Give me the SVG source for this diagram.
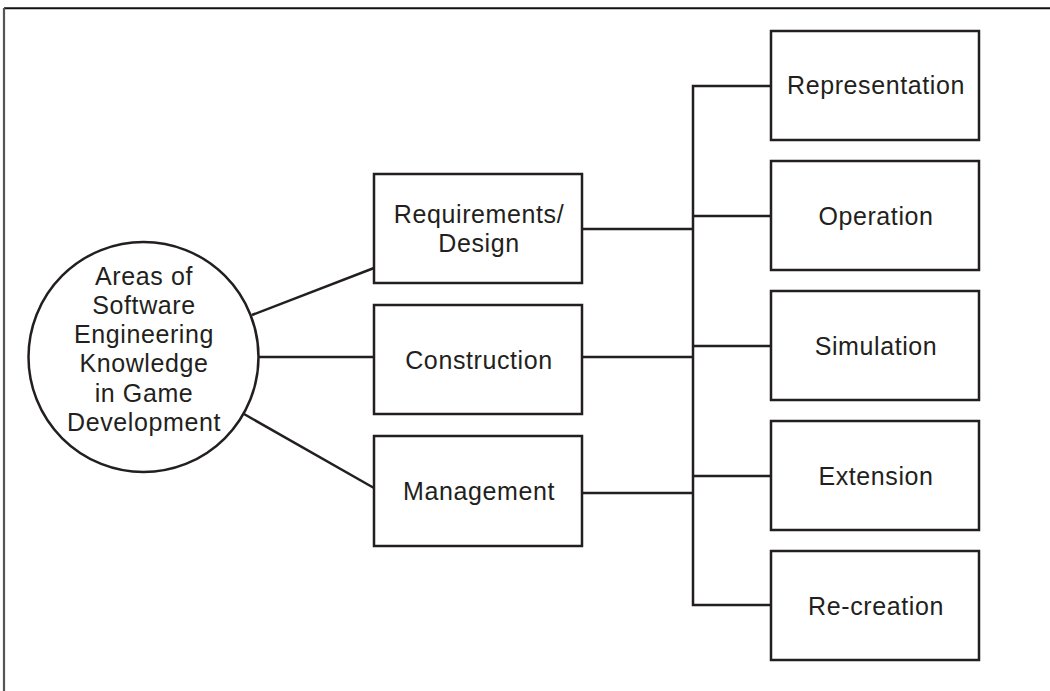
<svg xmlns="http://www.w3.org/2000/svg" width="1050" height="691" viewBox="0 0 1050 691">
<style>
.box{fill:#fff;stroke:#231f20;stroke-width:2.5}
.ln{fill:none;stroke:#231f20;stroke-width:2.5}
.t{font-family:"Liberation Sans",Arial,sans-serif;font-size:25px;fill:#231f20;text-anchor:middle;letter-spacing:0.6px}
</style>
<rect width="1050" height="691" fill="#fff"/>
<g id="frame">
<line x1="4" y1="8.3" x2="1050" y2="8.3" stroke="#111" stroke-width="2"/>
<line x1="4" y1="8" x2="4" y2="691" stroke="#555" stroke-width="2.2"/>
</g>
<g id="connectors" class="ln">
<line x1="252" y1="315" x2="374" y2="268"/>
<line x1="259" y1="357" x2="374" y2="357"/>
<line x1="244" y1="414" x2="374" y2="488"/>
<line x1="582" y1="229" x2="693" y2="229"/>
<line x1="582" y1="357" x2="693" y2="357"/>
<line x1="582" y1="493" x2="693" y2="493"/>
<polyline points="771,86 693,86 693,605 771,605"/>
<line x1="693" y1="216" x2="771" y2="216"/>
<line x1="693" y1="346" x2="771" y2="346"/>
<line x1="693" y1="476" x2="771" y2="476"/>
</g>
<g id="root">
<circle cx="143.5" cy="357" r="115" class="box"/>
<text class="t"><tspan x="144" y="285">Areas of</tspan><tspan x="144" y="314">Software</tspan><tspan x="144" y="343">Engineering</tspan><tspan x="144" y="372">Knowledge</tspan><tspan x="144" y="402">in Game</tspan><tspan x="144" y="431">Development</tspan></text>
</g>
<g id="requirements">
<rect x="374" y="174" width="208" height="109" class="box"/>
<text class="t"><tspan x="479" y="223">Requirements/</tspan><tspan x="479" y="252">Design</tspan></text>
</g>
<g id="construction">
<rect x="374" y="305" width="208" height="109" class="box"/>
<text class="t" x="479" y="369">Construction</text>
</g>
<g id="management">
<rect x="374" y="436" width="208" height="110" class="box"/>
<text class="t" x="479" y="500">Management</text>
</g>
<g id="representation">
<rect x="771" y="31" width="208" height="109" class="box"/>
<text class="t" x="876" y="94">Representation</text>
</g>
<g id="operation">
<rect x="771" y="161" width="208" height="109" class="box"/>
<text class="t" x="876" y="225">Operation</text>
</g>
<g id="simulation">
<rect x="771" y="291" width="208" height="109" class="box"/>
<text class="t" x="876" y="355">Simulation</text>
</g>
<g id="extension">
<rect x="771" y="421" width="208" height="109" class="box"/>
<text class="t" x="876" y="485">Extension</text>
</g>
<g id="recreation">
<rect x="771" y="551" width="208" height="109" class="box"/>
<text class="t" x="876" y="615">Re-creation</text>
</g>
</svg>
